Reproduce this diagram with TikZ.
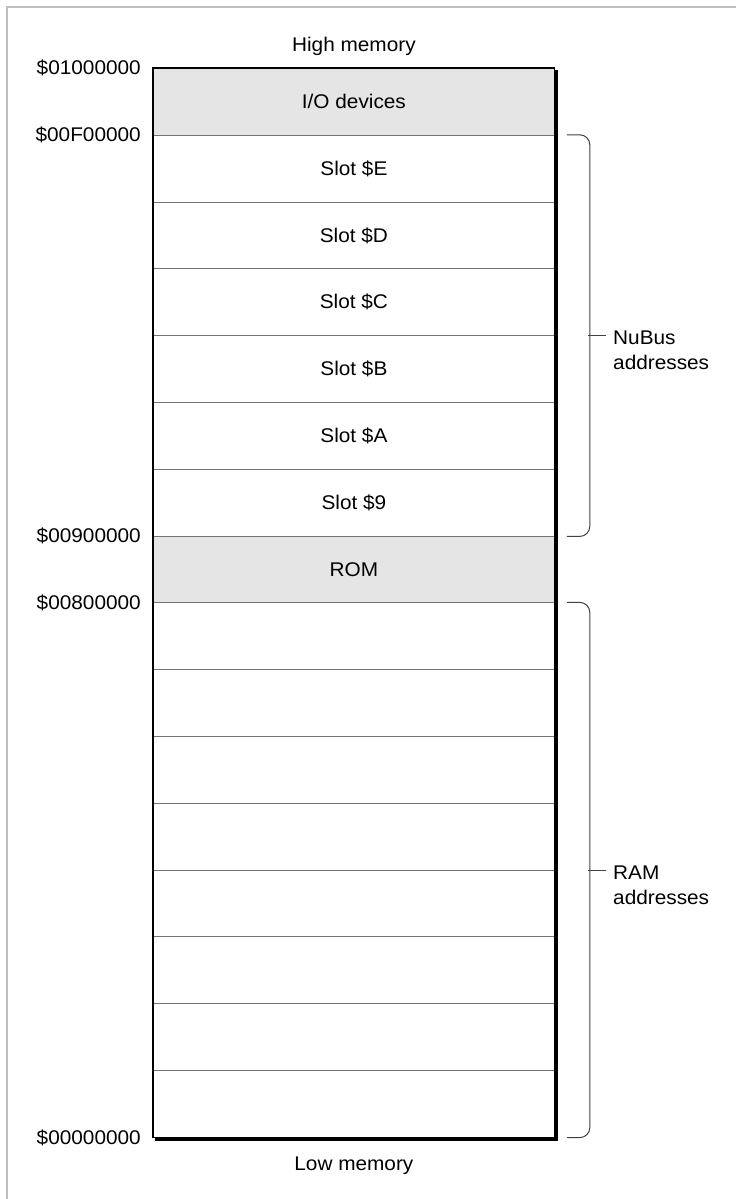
\documentclass[tikz,border=0pt]{standalone}
\usepackage{fontspec}
\setmainfont{Liberation Sans}[FakeStretch=1.05]
\usetikzlibrary{positioning}
\tikzset{
  memrow/.style={draw=black!55,line width=0.8pt,minimum width=401pt,
    minimum height=66.8pt,inner sep=0pt,anchor=north west},
  shaded/.style={fill=black!10},
  plain/.style={fill=white},
  addr/.style={inner sep=0pt},
  brace/.style={draw=black!75,line width=1pt,rounded corners=10pt},
  tick/.style={draw=black!75,line width=1pt},
  rangelabel/.style={anchor=north west,align=left,inner sep=0pt},
  pageframe/.style={draw=black!25,line width=1.5pt}
}

\begin{document}
\begin{tikzpicture}[x=1pt,y=-1pt,
  every node/.style={font=\fontsize{19.8}{25}\selectfont}]
\useasboundingbox (0,0) rectangle (736,1199);

% Frame of the page
\draw[pageframe] (7,1199) -- (7,7) -- (736,7);

% Memory rows, from high to low
\foreach \nm/\txt/\look [count=\i from 0] in {
io/{I/O devices}/shaded,
slotE/Slot \$E/plain,slotD/Slot \$D/plain,slotC/Slot \$C/plain,
slotB/Slot \$B/plain,slotA/Slot \$A/plain,slot9/Slot \$9/plain,
rom/ROM/shaded,
ramA//plain,ramB//plain,ramC//plain,ramD//plain,
ramE//plain,ramF//plain,ramG//plain,ramH//plain}
{
  \pgfmathsetmacro\ytop{68+\i*66.8}
  \node[memrow,\look] (\nm) at (153,\ytop) {\txt};
}

% Outline and shadow
\draw[line width=1.2pt] (io.north west) rectangle (ramH.south east);
\fill ([yshift=-2pt]io.north east) rectangle ([xshift=3.5pt,yshift=-3.5pt]ramH.south east);
\fill ([xshift=2pt]ramH.south west) rectangle ([xshift=3.5pt,yshift=-3.5pt]ramH.south east);

% Addresses
\node[addr,left=12pt of io.north west] (a1000000) {\$01000000};
\node[addr,left=12pt of slotE.north west] (a0F00000) {\$00F00000};
\node[addr,left=12pt of rom.north west] (a0900000) {\$00900000};
\node[addr,left=12pt of ramA.north west] (a0800000) {\$00800000};
\node[addr,left=12pt of ramH.south west] (a0000000) {\$00000000};

\node[addr,above=12pt of io.north] (high) {High memory};
\node[addr,below=19pt of ramH.south] (low) {Low memory};

% NuBus range
\coordinate (nbtop) at ([xshift=12pt]slotE.north east);
\coordinate (nbbot) at ([xshift=12pt]slot9.south east);
\coordinate (nbmid) at (588,335.5);
\draw[brace] (nbtop) -- ++(23,0) |- (nbbot);
\draw[tick] (nbmid) -- ++(18,0) coordinate (nbend);
\node[rangelabel] (nubus) at (613,331) {NuBus\\addresses};

% RAM range
\coordinate (rmtop) at ([xshift=12pt]ramA.north east);
\coordinate (rmbot) at ([xshift=12pt]ramH.south east);
\coordinate (rmmid) at (588,870);
\draw[brace] (rmtop) -- ++(23,0) |- (rmbot);
\draw[tick] (rmmid) -- ++(18,0) coordinate (rmend);
\node[rangelabel] (ram) at (613,865.5) {RAM\\addresses};

\end{tikzpicture}
\end{document}
